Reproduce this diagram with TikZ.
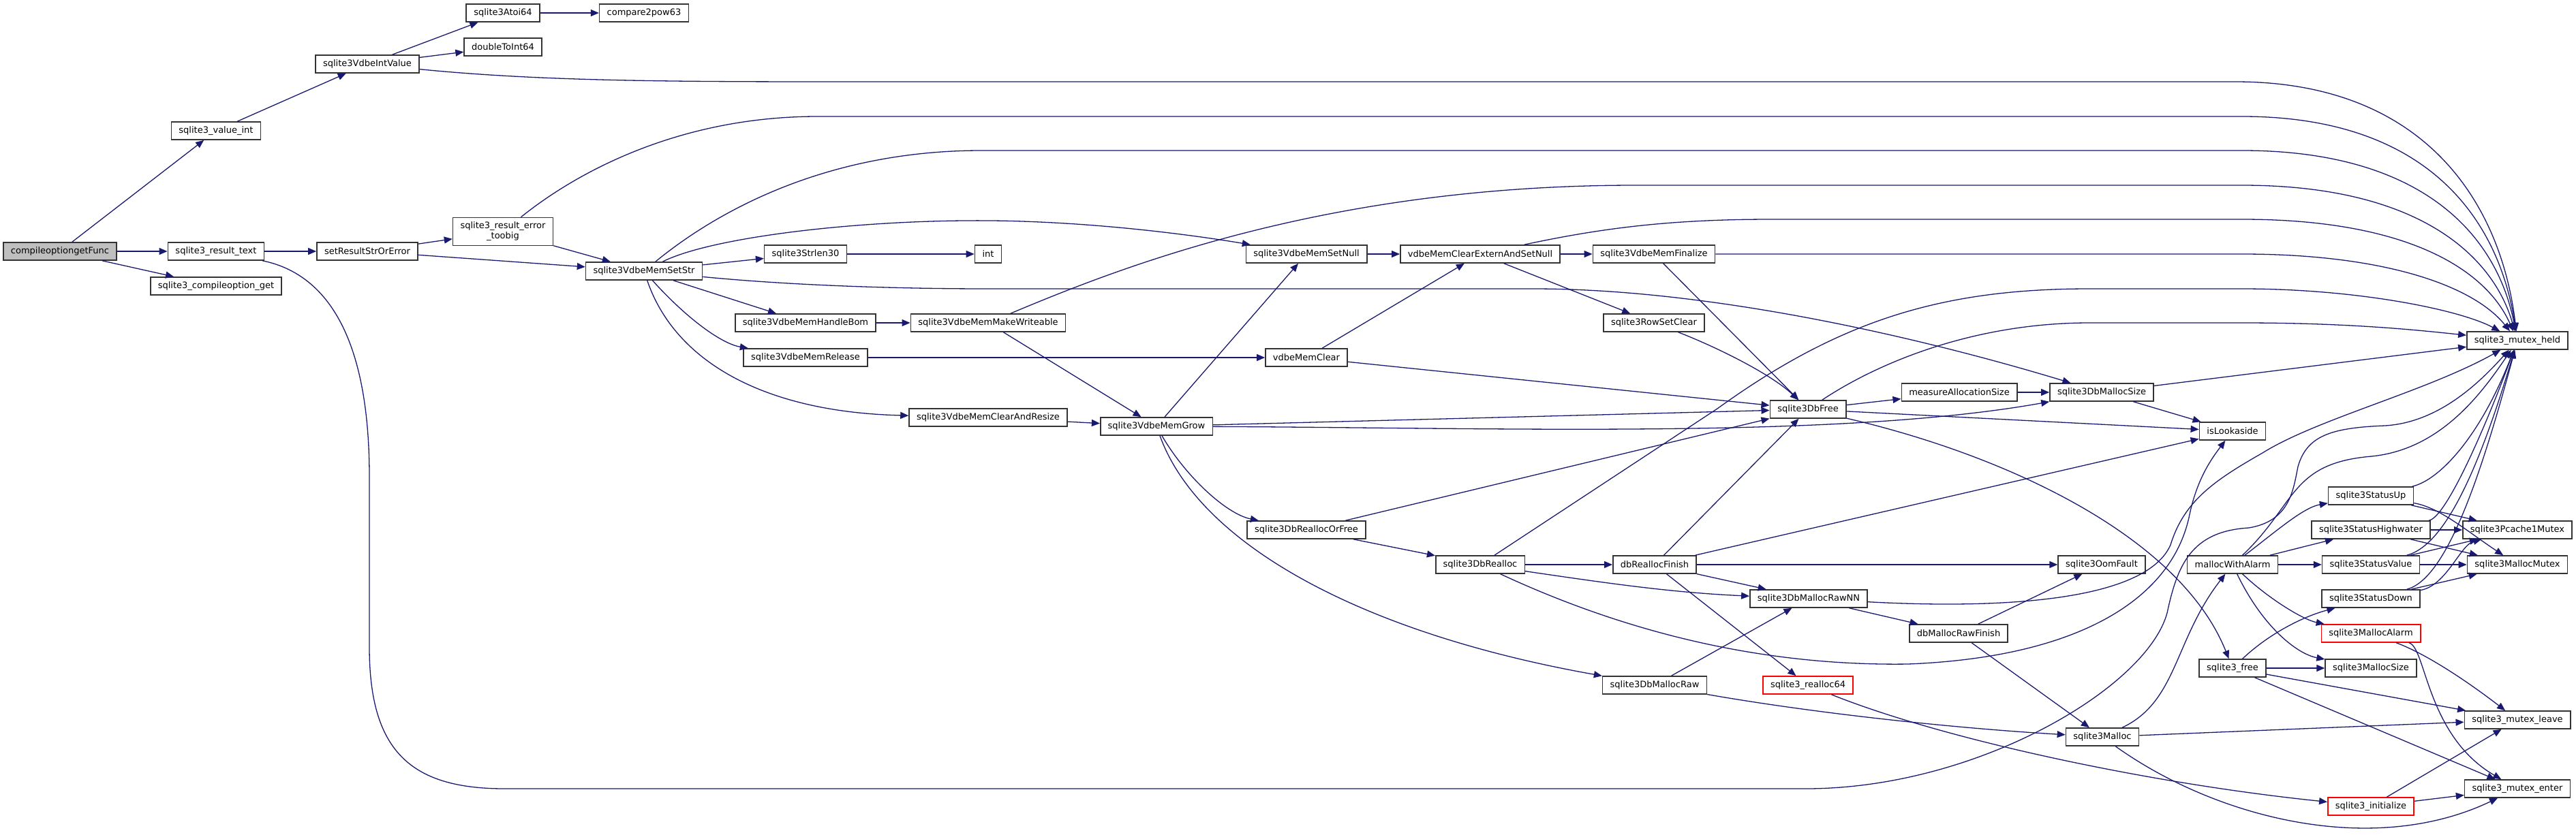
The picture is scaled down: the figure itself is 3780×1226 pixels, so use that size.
\documentclass[tikz,border=0pt]{standalone}
\usepackage{fontspec}
\newfontfamily\dvs{DejaVu Sans}
\usetikzlibrary{arrows.meta}
\definecolor{midblue}{HTML}{191970}

\begin{document}
\begin{tikzpicture}[x=0.5pt, y=-0.5pt, >={Triangle[length=6pt,width=5pt]},
	fn/.style={draw=black!80, line width=0.8pt, fill=white, font=\dvs\fontsize{6.5}{7.5}\selectfont,
		inner xsep=5.5pt, inner ysep=0pt, minimum height=13pt, align=center},
	fnred/.style={fn, draw=red},
	fnroot/.style={fn, fill=black!25},
	call/.style={->, draw=midblue, line width=0.65pt}]
	
	\useasboundingbox (0,0) rectangle (3780,1226);
	
	% Hàm gốc và các hàm gọi trực tiếp
	\node[fnroot] (root) at (88,369) {compileoptiongetFunc};
	\node[fn] (valint) at (317,192) {sqlite3\_value\_int};
	\node[fn] (restext) at (317,369) {sqlite3\_result\_text};
	\node[fn] (optget) at (317,420) {sqlite3\_compileoption\_get};
	\node[fn] (intval) at (539,94) {sqlite3VdbeIntValue};
	\node[fn] (atoi) at (738,19) {sqlite3Atoi64};
	\node[fn] (cmp) at (945,19) {compare2pow63};
	\node[fn] (dbl) at (738,69) {doubleToInt64};
	\node[fn] (setres) at (539,369) {setResultStrOrError};
	\node[fn, inner ysep=3.3pt] (toobig) at (738,340) {sqlite3\_result\_error\\\_toobig};
	\node[fn] (setstr) at (945,398) {sqlite3VdbeMemSetStr};
	
	% Tầng Vdbe
	\node[fn] (strlen) at (1182,373) {sqlite3Strlen30};
	\node[fn] (int) at (1450,373) {int};
	\node[fn] (bom) at (1182,474) {sqlite3VdbeMemHandleBom};
	\node[fn] (release) at (1182,525) {sqlite3VdbeMemRelease};
	\node[fn] (writeable) at (1450,474) {sqlite3VdbeMemMakeWriteable};
	\node[fn] (clrresize) at (1450,613) {sqlite3VdbeMemClearAndResize};
	\node[fn] (grow) at (1697,626) {sqlite3VdbeMemGrow};
	\node[fn] (setnull) at (1917,373) {sqlite3VdbeMemSetNull};
	\node[fn] (memclear) at (1917,525) {vdbeMemClear};
	\node[fn] (reallocfree) at (1917,778) {sqlite3DbReallocOrFree};
	\node[fn] (externnull) at (2172,373) {vdbeMemClearExternAndSetNull};
	\node[fn] (dbrealloc) at (2172,829) {sqlite3DbRealloc};
	\node[fn] (finalize) at (2427,373) {sqlite3VdbeMemFinalize};
	\node[fn] (rowset) at (2427,474) {sqlite3RowSetClear};
	\node[fn] (reallocfin) at (2428,829) {dbReallocFinish};
	\node[fn] (mallocraw) at (2428,1006) {sqlite3DbMallocRaw};
	
	% Tầng cấp phát bộ nhớ
	\node[fn] (dbfree) at (2653,601) {sqlite3DbFree};
	\node[fn] (rawnn) at (2654,879) {sqlite3DbMallocRawNN};
	\node[fnred] (realloc64) at (2653,1006) {sqlite3\_realloc64};
	\node[fn] (measure) at (2875,576) {measureAllocationSize};
	\node[fn] (rawfinish) at (2874,930) {dbMallocRawFinish};
	\node[fn] (msize) at (3084,576) {sqlite3DbMallocSize};
	\node[fn] (oom) at (3084,829) {sqlite3OomFault};
	\node[fn] (malloc) at (3085,1082) {sqlite3Malloc};
	\node[fn] (lookaside) at (3276,633) {isLookaside};
	\node[fn] (alarm) at (3276,829) {mallocWithAlarm};
	\node[fn] (free) at (3276,981) {sqlite3\_free};
	\node[fn] (statup) at (3479,728) {sqlite3StatusUp};
	\node[fn] (stathigh) at (3479,778) {sqlite3StatusHighwater};
	\node[fn] (statval) at (3479,829) {sqlite3StatusValue};
	\node[fn] (statdown) at (3479,879) {sqlite3StatusDown};
	\node[fnred] (mallocalarm) at (3479,930) {sqlite3MallocAlarm};
	\node[fn] (mallocsize) at (3479,981) {sqlite3MallocSize};
	\node[fnred] (init) at (3479,1184) {sqlite3\_initialize};
	\node[fn] (held) at (3694,500) {sqlite3\_mutex\_held};
	\node[fn] (pcache) at (3694,778) {sqlite3Pcache1Mutex};
	\node[fn] (mmutex) at (3694,829) {sqlite3MallocMutex};
	\node[fn] (leave) at (3694,1057) {sqlite3\_mutex\_leave};
	\node[fn] (enter) at (3694,1158) {sqlite3\_mutex\_enter};
	
	% Cạnh gọi hàm
	\draw[call] (root) -- (valint);
	\draw[call] (root) -- (restext);
	\draw[call] (root) -- (optget);
	\draw[call] (valint) -- (intval);
	\draw[call] (intval) -- (atoi);
	\draw[call] (intval) -- (dbl);
	\draw[call] (atoi) -- (cmp);
	\draw[call] (intval) .. controls (800,120) and (1000,120) .. (1260,120) -- (3280,120) .. controls (3560,120) and (3670,300) .. (held);
	
	\draw[call] (restext) -- (setres);
	\draw[call] (restext) .. controls (470,400) and (542,480) .. (542,700) -- (542,950) .. controls (542,1100) and (600,1158) .. (740,1158) -- (2650,1158) .. controls (2900,1158) and (3150,1010) .. (3180,900) .. controls (3195,830) and (3215,780) .. (3300,775) .. controls (3360,765) and (3365,720) .. (3372,685) .. controls (3385,640) and (3420,628) .. (3500,625) .. controls (3580,620) and (3640,560) .. (held);
	\draw[call] (setres) -- (toobig);
	\draw[call] (setres) -- (setstr);
	\draw[call] (toobig) -- (setstr);
	\draw[call] (toobig) .. controls (850,250) and (1000,171) .. (1200,171) -- (3290,171) .. controls (3570,171) and (3668,330) .. (held);
	
	\draw[call] (setstr) -- (strlen);
	\draw[call] (strlen) -- (int);
	\draw[call] (setstr) .. controls (1040,320) and (1200,221) .. (1440,221) -- (3290,221) .. controls (3560,221) and (3665,350) .. (held);
	\draw[call] (setstr) .. controls (1050,345) and (1300,318) .. (1500,325) .. controls (1650,330) and (1780,350) .. (setnull);
	\draw[call] (setstr) .. controls (1150,418) and (1300,424) .. (1450,424) -- (2250,424) .. controls (2500,424) and (2800,490) .. (msize);
	\draw[call] (setstr) -- (bom);
	\draw[call] (setstr) .. controls (1010,470) and (1060,505) .. (release);
	\draw[call] (setstr) .. controls (990,530) and (1120,605) .. (clrresize);
	\draw[call] (bom) -- (writeable);
	\draw[call] (writeable) .. controls (1650,390) and (1950,272) .. (2400,272) -- (3290,272) .. controls (3555,272) and (3660,380) .. (held);
	\draw[call] (writeable) -- (grow);
	\draw[call] (release) -- (memclear);
	\draw[call] (clrresize) -- (grow);
	
	\draw[call] (grow) -- (setnull);
	\draw[call] (grow) -- (dbfree);
	\draw[call] (grow) .. controls (2200,628) and (2700,645) .. (msize);
	\draw[call] (grow) .. controls (1740,700) and (1800,755) .. (reallocfree);
	\draw[call] (grow) .. controls (1760,800) and (2000,930) .. (mallocraw);
	\draw[call] (setnull) -- (externnull);
	\draw[call] (memclear) -- (externnull);
	\draw[call] (memclear) -- (dbfree);
	\draw[call] (externnull) -- (finalize);
	\draw[call] (externnull) -- (rowset);
	\draw[call] (externnull) .. controls (2350,335) and (2450,322) .. (2600,322) -- (3290,322) .. controls (3540,322) and (3650,400) .. (held);
	\draw[call] (finalize) -- (3290,373) .. controls (3500,373) and (3630,420) .. (held);
	\draw[call] (finalize) -- (dbfree);
	\draw[call] (rowset) .. controls (2520,510) and (2600,550) .. (dbfree);
	
	\draw[call] (reallocfree) -- (dbrealloc);
	\draw[call] (reallocfree) -- (dbfree);
	\draw[call] (dbrealloc) -- (reallocfin);
	\draw[call] (dbrealloc) -- (2520,600) .. controls (2700,470) and (2850,424) .. (3066,424) -- (3290,424) .. controls (3460,424) and (3610,455) .. (held);
	\draw[call] (dbrealloc) .. controls (2350,855) and (2450,870) .. (rawnn);
	\draw[call] (dbrealloc) .. controls (2400,935) and (2600,978) .. (2800,975) .. controls (3050,965) and (3185,880) .. (3212,760) .. controls (3222,710) and (3240,680) .. (lookaside);
	\draw[call] (reallocfin) -- (dbfree);
	\draw[call] (reallocfin) -- (lookaside);
	\draw[call] (reallocfin) -- (oom);
	\draw[call] (reallocfin) -- (rawnn);
	\draw[call] (reallocfin) -- (realloc64);
	\draw[call] (mallocraw) -- (rawnn);
	\draw[call] (mallocraw) .. controls (2650,1045) and (2850,1068) .. (malloc);
	
	\draw[call] (dbfree) -- (measure);
	\draw[call] (dbfree) -- (lookaside);
	\draw[call] (dbfree) .. controls (2760,530) and (2900,474) .. (3066,474) -- (3290,474) .. controls (3450,474) and (3550,485) .. (held);
	\draw[call] (dbfree) .. controls (2950,670) and (3200,790) .. (free);
	\draw[call] (measure) -- (msize);
	\draw[call] (msize) -- (held);
	\draw[call] (msize) -- (lookaside);
	\draw[call] (rawnn) -- (rawfinish);
	\draw[call] (rawnn) .. controls (2950,895) and (3150,880) .. (3185,800) .. controls (3205,735) and (3250,705) .. (3320,665) .. controls (3400,615) and (3560,575) .. (held);
	\draw[call] (rawfinish) -- (oom);
	\draw[call] (rawfinish) -- (malloc);
	\draw[call] (realloc64) .. controls (2850,1085) and (3150,1150) .. (init);
	
	\draw[call] (malloc) .. controls (3195,1030) and (3190,940) .. (alarm);
	\draw[call] (malloc) -- (leave);
	\draw[call] (malloc) .. controls (3250,1200) and (3480,1260) .. (enter);
	\draw[call] (alarm) -- (statval);
	\draw[call] (alarm) -- (stathigh);
	\draw[call] (alarm) .. controls (3340,780) and (3380,745) .. (statup);
	\draw[call] (alarm) .. controls (3330,880) and (3380,910) .. (mallocalarm);
	\draw[call] (alarm) .. controls (3320,920) and (3370,960) .. (mallocsize);
	\draw[call] (alarm) .. controls (3370,740) and (3360,680) .. (3480,670) .. controls (3580,660) and (3640,580) .. (held);
	\draw[call] (free) .. controls (3330,930) and (3380,905) .. (statdown);
	\draw[call] (free) -- (mallocsize);
	\draw[call] (free) -- (leave);
	\draw[call] (free) -- (enter);
	
	\draw[call] (statup) -- (pcache);
	\draw[call] (statup) .. controls (3580,745) and (3620,780) .. (mmutex);
	\draw[call] (statup) .. controls (3580,705) and (3640,640) .. (held);
	\draw[call] (stathigh) -- (pcache);
	\draw[call] (stathigh) -- (mmutex);
	\draw[call] (stathigh) .. controls (3590,760) and (3650,620) .. (held);
	\draw[call] (statval) -- (pcache);
	\draw[call] (statval) -- (mmutex);
	\draw[call] (statval) .. controls (3590,800) and (3640,680) .. (held);
	\draw[call] (statdown) .. controls (3590,860) and (3610,800) .. (pcache);
	\draw[call] (statdown) -- (mmutex);
	\draw[call] (statdown) .. controls (3590,850) and (3640,700) .. (held);
	\draw[call] (mallocalarm) .. controls (3560,960) and (3620,1000) .. (leave);
	\draw[call] (mallocalarm) .. controls (3560,950) and (3560,1080) .. (enter);
	\draw[call] (init) -- (leave);
	\draw[call] (init) -- (enter);
\end{tikzpicture}
\end{document}
